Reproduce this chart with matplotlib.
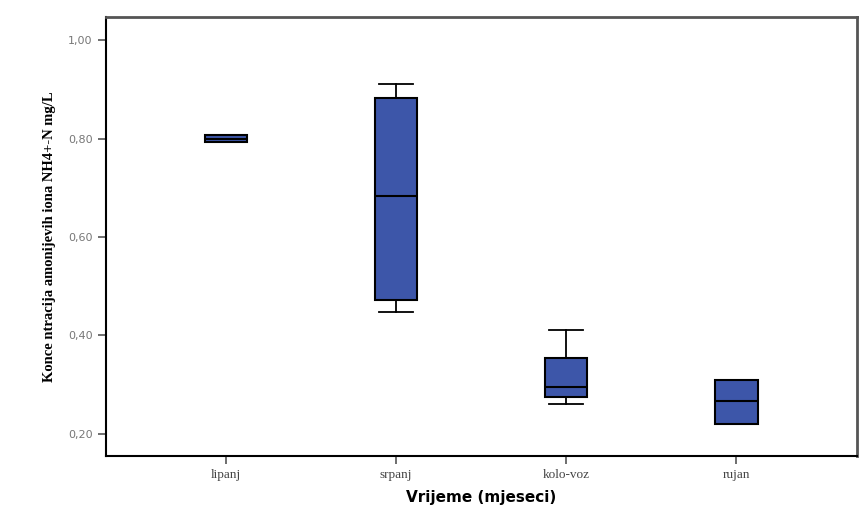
import matplotlib
matplotlib.use("Agg")
import matplotlib.pyplot as plt

categories = ["lipanj", "srpanj", "kolo-voz", "rujan"]
whislo = [0.793, 0.448, 0.260, 0.221]
q1 = [0.793, 0.471, 0.274, 0.221]
med = [0.800, 0.684, 0.296, 0.266]
q3 = [0.808, 0.882, 0.355, 0.310]
whishi = [0.808, 0.911, 0.412, 0.310]
yticks = [0.2, 0.4, 0.6, 0.8, 1.0]
ytick_labels = ["0,20", "0,40", "0,60", "0,80", "1,00"]

stats = []
for i, c in enumerate(categories):
    stats.append(dict(label=c, whislo=whislo[i], q1=q1[i], med=med[i],
                      q3=q3[i], whishi=whishi[i], fliers=[]))

fig = plt.figure(figsize=(8.61, 5.22), dpi=100)
ax = fig.add_axes([0.1231, 0.1264, 0.8723, 0.841])

ax.bxp(stats, positions=range(len(categories)), widths=0.25, patch_artist=True,
       showfliers=False,
       boxprops=dict(facecolor="#3d56a9", edgecolor="black", linewidth=1.5),
       medianprops=dict(color="black", linewidth=1.5),
       whiskerprops=dict(color="black", linewidth=1.3),
       capprops=dict(color="black", linewidth=1.3),
       capwidths=0.2)

ax.set_xlim(-0.706, 3.71)
ax.set_ylim(0.155, 1.047)
ax.set_yticks(yticks)
ax.set_yticklabels(ytick_labels, fontsize=8, color="#777777", family="DejaVu Sans")
ax.set_xticks(range(len(categories)))
ax.set_xticklabels(categories, fontsize=9.5, color="#444444", family="Liberation Serif")
ax.tick_params(axis="y", direction="out", length=6, width=1.2, color="#555555")
ax.tick_params(axis="x", direction="out", length=6, width=1.2, color="#555555")
for s in ["left", "bottom"]:
    ax.spines[s].set_linewidth(1.5)
    ax.spines[s].set_color("black")
for s in ["right", "top"]:
    ax.spines[s].set_linewidth(2)
    ax.spines[s].set_color("#555555")

ax.set_xlabel("Vrijeme (mjeseci)", fontsize=11, fontweight="bold", family="DejaVu Sans",
              labelpad=6)
ax.set_ylabel("Konce ntracija amonijevih iona NH4+-N mg/L", fontsize=10.5,
              family="Liberation Serif", fontweight="bold", labelpad=9)

fig.savefig("out.png", dpi=100)
